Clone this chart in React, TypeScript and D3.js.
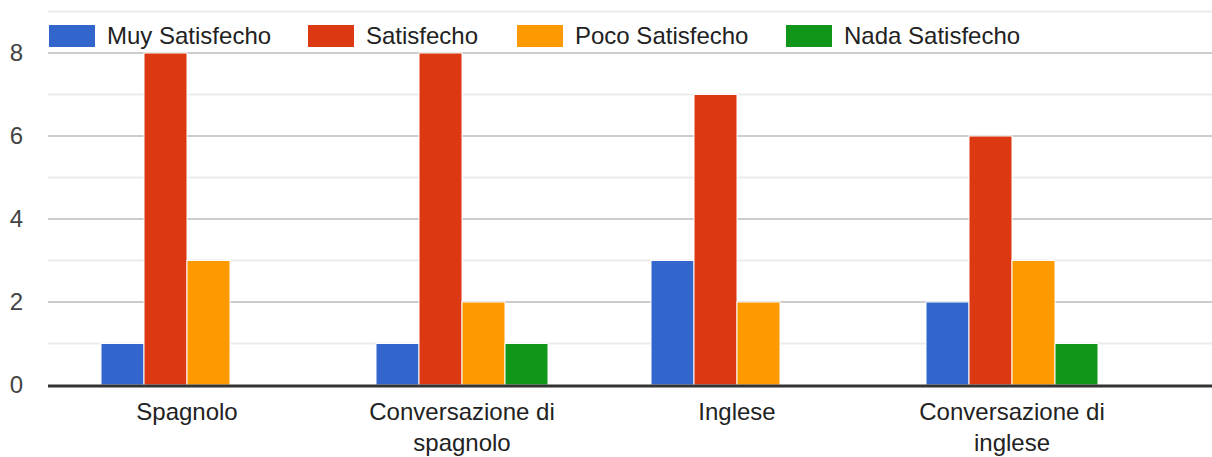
import React from "react";
import * as d3 from "d3";

const categories = [
  ["Spagnolo"],
  ["Conversazione di", "spagnolo"],
  ["Inglese"],
  ["Conversazione di", "inglese"],
];
const seriesNames = ["Muy Satisfecho", "Satisfecho", "Poco Satisfecho", "Nada Satisfecho"];
const seriesColors = ["#3366cc", "#dc3912", "#ff9900", "#109618"];
const muySatisfecho = [1, 1, 3, 2];
const satisfecho = [8, 8, 7, 6];
const pocoSatisfecho = [3, 2, 2, 3];
const nadaSatisfecho = [0, 1, 0, 1];
const yTicks = [0, 2, 4, 6, 8];
const gridValues = [1, 2, 3, 4, 5, 6, 7, 8, 9];
const legendX = [49, 308, 517, 786];

const series = [muySatisfecho, satisfecho, pocoSatisfecho, nadaSatisfecho];

const W = 1212;
const H = 457;
const font = "Arial, 'Liberation Sans', sans-serif";

export default function App() {
  const plotLeft = 48;
  const x = d3.scaleBand<number>().domain(d3.range(categories.length)).range([49.5, 1149.5]);
  const inner = d3
    .scaleBand<number>()
    .domain(d3.range(series.length))
    .range([x.bandwidth() / 2 - 86, x.bandwidth() / 2 + 86]);
  const y = d3.scaleLinear().domain([0, 9]).range([385, 11.5]);

  return (
    <svg
      width={W}
      height={H}
      style={{ position: "absolute", left: 0, top: 0, background: "#fff" }}
      fontFamily={font}
    >
      <rect width={W} height={H} fill="#fff" />
      {gridValues.map((v) => (
        <line
          key={v}
          x1={plotLeft}
          x2={W}
          y1={y(v)}
          y2={y(v)}
          stroke={v % 2 === 0 ? "#cccccc" : "#ebebeb"}
          strokeWidth={2}
        />
      ))}
      {yTicks.map((v) => (
        <text
          key={v}
          x={23}
          y={y(v)}
          dy="0.35em"
          textAnchor="end"
          fontSize={24}
          fill="#444"
        >
          {v}
        </text>
      ))}
      {series.map((vals, si) =>
        vals.map((v, ci) =>
          v > 0 ? (
            <rect
              key={`${si}-${ci}`}
              x={(x(ci) ?? 0) + (inner(si) ?? 0)}
              y={y(v)}
              width={inner.bandwidth()}
              height={y(0) - y(v)}
              fill={seriesColors[si]}
              stroke="#fff"
              strokeWidth={1}
            />
          ) : null
        )
      )}
      <line x1={plotLeft} x2={W} y1={y(0) + 1} y2={y(0) + 1} stroke="#333" strokeWidth={3} />
      {categories.map((lines, ci) => (
        <text
          key={ci}
          x={(x(ci) ?? 0) + x.bandwidth() / 2}
          y={420}
          textAnchor="middle"
          fontSize={24}
          fill="#222"
        >
          {lines.map((l, li) => (
            <tspan key={li} x={(x(ci) ?? 0) + x.bandwidth() / 2} dy={li === 0 ? 0 : 31}>
              {l}
            </tspan>
          ))}
        </text>
      ))}
      {seriesNames.map((name, si) => (
        <g key={name} transform={`translate(${legendX[si]},25)`}>
          <rect width={46} height={22} fill={seriesColors[si]} />
          <text x={58} y={11} dy="0.35em" fontSize={24} fill="#222">
            {name}
          </text>
        </g>
      ))}
    </svg>
  );
}
